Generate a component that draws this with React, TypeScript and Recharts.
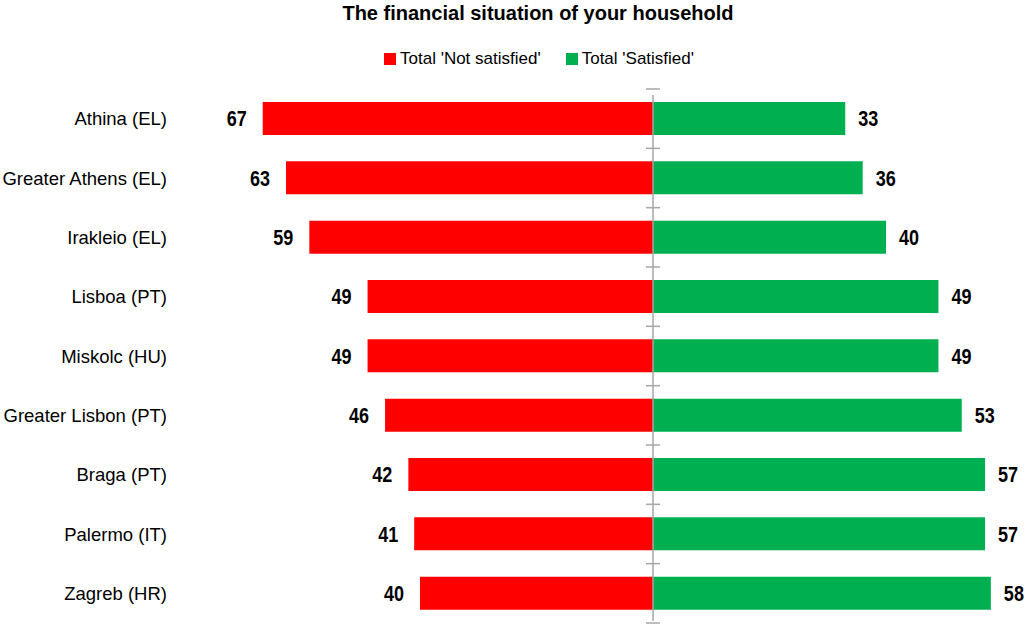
import { BarChart, Bar, XAxis, YAxis, ReferenceLine, LabelList } from 'recharts';

const cities = [
  'Athina (EL)',
  'Greater Athens (EL)',
  'Irakleio (EL)',
  'Lisboa (PT)',
  'Miskolc (HU)',
  'Greater Lisbon (PT)',
  'Braga (PT)',
  'Palermo (IT)',
  'Zagreb (HR)',
];
const notSatisfied = [67, 63, 59, 49, 49, 46, 42, 41, 40];
const satisfied = [33, 36, 40, 49, 49, 53, 57, 57, 58];

const data = cities.map((city, i) => ({
  city,
  notSatisfied: -notSatisfied[i],
  satisfied: satisfied[i],
}));

const FONT = '"Liberation Sans", Arial, sans-serif';
const RED = '#ff0000';
const GREEN = '#00b050';
const AXIS = '#a6a6a6';

const CenterAxis = (props: any) => {
  const { x1, y1, y2 } = props;
  const n = cities.length;
  const step = (y2 - y1) / n;
  const ticks = [];
  for (let i = 0; i <= n; i++) {
    const y = y1 + i * step;
    ticks.push(<line key={i} x1={x1 - 7} x2={x1 + 7} y1={y} y2={y} stroke={AXIS} strokeWidth={1.5} />);
  }
  return (
    <g>
      <line x1={x1} x2={x1} y1={y1 - 2} y2={y2 + 6} stroke={AXIS} strokeWidth={1.5} />
      {ticks}
    </g>
  );
};

// value labels are tall and narrow in the source, so stretch them a bit vertically
const valueLabel = (side: 'left' | 'right') => (props: any) => {
  const { x, y, width, height, value } = props;
  const lo = Math.min(x, x + width);
  const hi = Math.max(x, x + width);
  const tx = side === 'left' ? lo - 16 : hi + 13;
  const ty = y + height / 2;
  return (
    <text
      transform={`translate(${tx},${ty}) scale(1,1.25)`}
      x={0}
      y={0}
      textAnchor={side === 'left' ? 'end' : 'start'}
      dominantBaseline="central"
      fontFamily={FONT}
      fontWeight="bold"
      fontSize={18}
      fill="#000"
    >
      {Math.abs(value)}
    </text>
  );
};

const swatch = (color: string) => (
  <span style={{ width: 12, height: 12, background: color, marginRight: 4, display: 'inline-block' }} />
);

export default function App() {
  return (
    <div style={{ position: 'absolute', left: 0, top: 0, width: 1025, height: 625, background: '#fff' }}>
      <div
        style={{
          position: 'absolute',
          top: 2,
          left: 0,
          width: 1076,
          textAlign: 'center',
          fontFamily: FONT,
          fontWeight: 'bold',
          fontSize: 20,
          color: '#000',
        }}
      >
        The financial situation of your household
      </div>
      <div
        style={{
          position: 'absolute',
          top: 49,
          left: 0,
          width: 1078,
          display: 'flex',
          justifyContent: 'center',
          gap: 25,
          fontFamily: FONT,
          fontSize: 17,
          color: '#000',
        }}
      >
        <span style={{ display: 'flex', alignItems: 'center' }}>
          {swatch(RED)}
          Total 'Not satisfied'
        </span>
        <span style={{ display: 'flex', alignItems: 'center' }}>
          {swatch(GREEN)}
          Total 'Satisfied'
        </span>
      </div>
      <BarChart
        width={1025}
        height={625}
        data={data}
        layout="vertical"
        stackOffset="sign"
        margin={{ top: 89, right: 5, left: 0, bottom: 2 }}
      >
        <XAxis type="number" hide domain={[-80, 63]} />
        <YAxis
          type="category"
          dataKey="city"
          width={187}
          axisLine={false}
          tickLine={false}
          tickSize={0}
          tickMargin={20}
          tick={{ fontSize: 18.5, fill: '#000', fontFamily: FONT }}
        />
        <Bar dataKey="notSatisfied" stackId="a" fill={RED} barSize={33} isAnimationActive={false}>
          <LabelList dataKey="notSatisfied" content={valueLabel('left')} />
        </Bar>
        <Bar dataKey="satisfied" stackId="a" fill={GREEN} barSize={33} isAnimationActive={false}>
          <LabelList dataKey="satisfied" content={valueLabel('right')} />
        </Bar>
        <ReferenceLine x={0} stroke={AXIS} shape={<CenterAxis />} />
      </BarChart>
    </div>
  );
}
